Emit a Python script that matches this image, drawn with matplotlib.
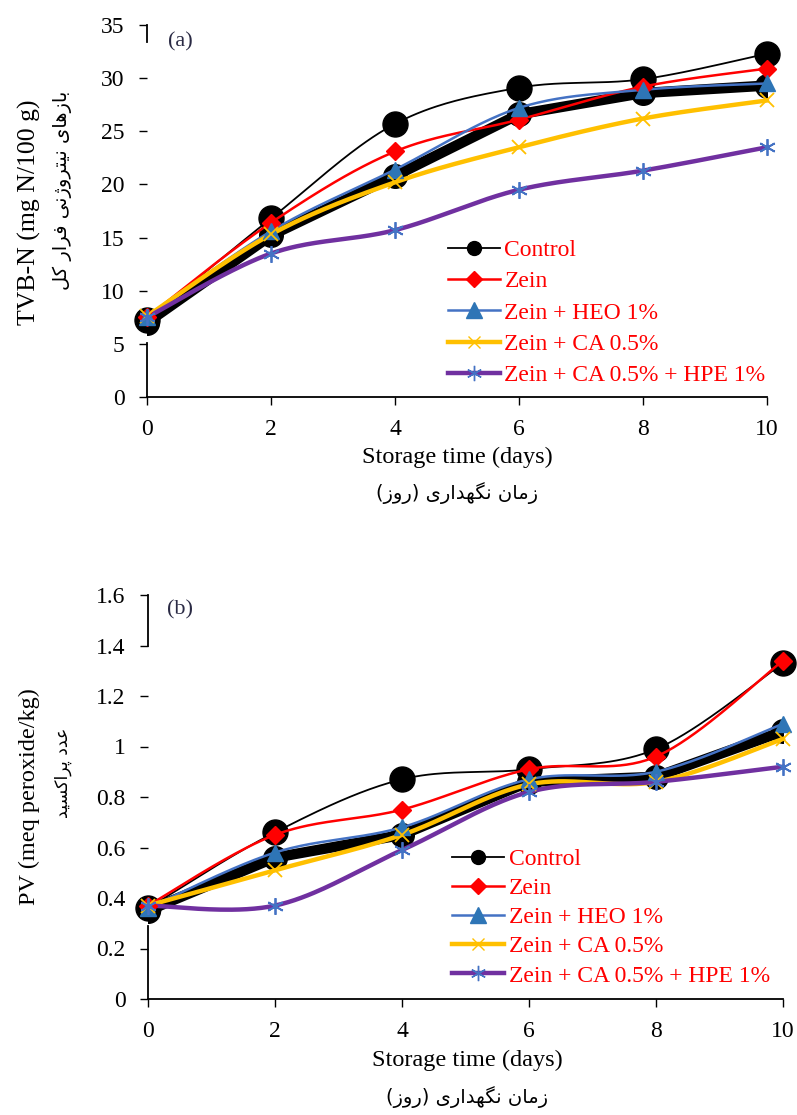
import numpy as np
import matplotlib
matplotlib.use("Agg")
import matplotlib.pyplot as plt
from matplotlib.lines import Line2D

plt.rcParams['font.family'] = ['Liberation Serif', 'DejaVu Sans']

# ---------------- data ----------------
days = [0, 2, 4, 6, 8, 10]
series_names = ["Control", "Zein", "Zein + HEO 1%", "Zein + CA 0.5%", "Zein + CA 0.5% + HPE 1%"]

tvbn_control = [7.2, 16.8, 25.7, 29.1, 29.9, 32.3]
tvbn_zein = [7.5, 16.4, 23.1, 26.1, 29.2, 30.9]
tvbn_heo = [7.5, 15.6, 21.4, 27.2, 28.9, 29.5]
tvbn_ca = [7.6, 15.3, 20.2, 23.5, 26.2, 27.9]
tvbn_hpe = [7.5, 13.5, 15.7, 19.5, 21.3, 23.5]
tvbn_band = [7.0, 15.2, 20.8, 26.6, 28.6, 29.3]

pv_control = [0.36, 0.66, 0.87, 0.91, 0.99, 1.33]
pv_zein = [0.37, 0.65, 0.75, 0.91, 0.96, 1.34]
pv_heo = [0.36, 0.58, 0.68, 0.87, 0.90, 1.09]
pv_ca = [0.37, 0.51, 0.65, 0.85, 0.86, 1.03]
pv_hpe = [0.37, 0.37, 0.59, 0.82, 0.86, 0.92]
pv_band = [0.35, 0.56, 0.65, 0.86, 0.88, 1.06]

tvbn_yticks = [0, 5, 10, 15, 20, 25, 30, 35]
pv_yticks = [0, 0.2, 0.4, 0.6, 0.8, 1.0, 1.2, 1.4, 1.6]
pv_yticklabels = ["0", "0.2", "0.4", "0.6", "0.8", "1", "1.2", "1.4", "1.6"]
xticks = [0, 2, 4, 6, 8, 10]

ylabel_a = "TVB-N (mg N/100 g)"
ylabel_a_fa = "بازهای نیتروژنی فرار کل"
ylabel_b = "PV (meq peroxide/kg)"
ylabel_b_fa = "عدد پراکسید"
xlabel_en = "Storage time (days)"
xlabel_fa = "زمان نگهداری (روز)"

# ---------------- Persian shaping ----------------
FORMS = {
    'ا': ('\uFE8D', '\uFE8E', None, None),
    'ب': ('\uFE8F', '\uFE90', '\uFE91', '\uFE92'),
    'پ': ('\uFB56', '\uFB57', '\uFB58', '\uFB59'),
    'ت': ('\uFE95', '\uFE96', '\uFE97', '\uFE98'),
    'د': ('\uFEA9', '\uFEAA', None, None),
    'ر': ('\uFEAD', '\uFEAE', None, None),
    'ز': ('\uFEAF', '\uFEB0', None, None),
    'ژ': ('\uFB8A', '\uFB8B', None, None),
    'س': ('\uFEB1', '\uFEB2', '\uFEB3', '\uFEB4'),
    'ع': ('\uFEC9', '\uFECA', '\uFECB', '\uFECC'),
    'ف': ('\uFED1', '\uFED2', '\uFED3', '\uFED4'),
    'ک': ('\uFB8E', '\uFB8F', '\uFB90', '\uFB91'),
    'گ': ('\uFB92', '\uFB93', '\uFB94', '\uFB95'),
    'ل': ('\uFEDD', '\uFEDE', '\uFEDF', '\uFEE0'),
    'م': ('\uFEE1', '\uFEE2', '\uFEE3', '\uFEE4'),
    'ن': ('\uFEE5', '\uFEE6', '\uFEE7', '\uFEE8'),
    'ه': ('\uFEE9', '\uFEEA', '\uFEEB', '\uFEEC'),
    'و': ('\uFEED', '\uFEEE', None, None),
    'ی': ('\uFBFC', '\uFBFD', '\uFBFE', '\uFBFF'),
}


def shape_fa(text):
    chars = list(text)
    out = []
    for i, c in enumerate(chars):
        if c not in FORMS:
            out.append(c)
            continue
        prev = chars[i - 1] if i > 0 else None
        nxt = chars[i + 1] if i + 1 < len(chars) else None
        join_prev = prev in FORMS and FORMS[prev][2] is not None
        join_next = nxt in FORMS and FORMS[c][2] is not None
        iso, fin, ini, med = FORMS[c]
        if join_prev and join_next:
            out.append(med)
        elif join_prev:
            out.append(fin)
        elif join_next:
            out.append(ini)
        else:
            out.append(iso)
    vis = ''.join(reversed(out))
    vis = vis.translate(str.maketrans({'(': ')', ')': '('}))
    return vis


def excel_smooth(x, y, n=40):
    pts = np.column_stack([np.asarray(x, float), np.asarray(y, float)])
    segs = []
    for i in range(len(pts) - 1):
        p0 = pts[i - 1] if i > 0 else pts[i]
        p1 = pts[i]
        p2 = pts[i + 1]
        p3 = pts[i + 2] if i + 2 < len(pts) else pts[i + 1]
        c1 = p1 + (p2 - p0) / 6.0
        c2 = p2 - (p3 - p1) / 6.0
        t = np.linspace(0, 1, n)[:, None]
        seg = (1 - t) ** 3 * p1 + 3 * (1 - t) ** 2 * t * c1 + 3 * (1 - t) * t ** 2 * c2 + t ** 3 * p2
        segs.append(seg if i == 0 else seg[1:])
    return np.vstack(segs)


styles = [
    dict(color='black', lw=1.3, marker='o', mfc='black', mec='black', ms=18, lms=10),
    dict(color='#FF0000', lw=1.8, marker='D', mfc='#FF0000', mec='#FF0000', ms=9, lms=8),
    dict(color='#4472C4', lw=1.8, marker='^', mfc='#2E75B6', mec='#2E75B6', ms=11, lms=11),
    dict(color='#FFC000', lw=3.2, marker='x', mfc='#FFC000', mec='#FFC000', ms=10, lms=9),
    dict(color='#7030A0', lw=3.2, marker='*', mfc='#4472C4', mec='#4472C4', ms=0, lms=0),
]

FS_TICK = 17
FS_LAB = 17.5
FS_LEG = 17
W, H = 797, 1115
fig = plt.figure(figsize=(W / 100, H / 100), dpi=100)


def make_panel(rect, series, band, ylim, yticks, yticklabels, spine_parts, leg_anchor, leg_spacing,
               ylab, ylab_fa, ylab_x, ylab_y, ylab_fs, xlab_x, xlab_y, tag, tag_xy):
    ax = fig.add_axes(rect)
    # black band artefact
    ax.plot(days, band, color='black', lw=7.5, solid_capstyle='butt', zorder=1)
    ax.plot(days, band, linestyle='none', marker='o', ms=17, color='black', zorder=1)
    for vals, st in zip(series, styles):
        sm = excel_smooth(days, vals)
        ax.plot(sm[:, 0], sm[:, 1], color=st['color'], lw=st['lw'], zorder=3, clip_on=False)
    for vals, st in zip(series, styles):
        if st['marker'] == '*':
            ax.plot(days, vals, linestyle='none', marker=(6, 2, 0), ms=12, mec=st['mec'], mew=1.3, zorder=4, clip_on=False)
        elif st['marker'] == 'x':
            ax.plot(days, vals, linestyle='none', marker='x', ms=st['ms'], mec=st['mec'], mew=1.3, zorder=4, clip_on=False)
        else:
            ax.plot(days, vals, linestyle='none', marker=st['marker'], ms=st['ms'], mfc=st['mfc'], mec=st['mec'],
                    zorder=4 if st['marker'] != 'o' else 2, clip_on=False)
    ax.set_xlim(0, 10)
    ax.set_ylim(*ylim)
    ax.set_xticks(xticks)
    ax.set_xticklabels([str(v) for v in xticks], fontsize=FS_TICK)
    ax.set_yticks(yticks)
    ax.set_yticklabels(yticklabels, fontsize=FS_TICK)
    ax.tick_params(axis='x', direction='out', length=6, width=1, pad=10)
    ax.tick_params(axis='y', direction='out', length=6, width=1, pad=10)
    for s in ['top', 'right']:
        ax.spines[s].set_visible(False)
    ax.spines['bottom'].set_linewidth(1.3)
    ax.spines['left'].set_visible(False)
    for lo, hi in spine_parts:
        ax.plot([0, 0], [lo, hi], color='black', lw=1.3, clip_on=False, zorder=5)
    # legend
    handles = []
    for name, st in zip(series_names, styles):
        if st['marker'] == '*':
            h = Line2D([], [], color=st['color'], lw=st['lw'], marker=(6, 2, 0), ms=11, mec=st['mec'], mew=1.0)
        elif st['marker'] == 'x':
            h = Line2D([], [], color=st['color'], lw=st['lw'], marker='x', ms=9, mec=st['mec'], mew=1.0)
        else:
            h = Line2D([], [], color=st['color'], lw=st['lw'], marker=st['marker'], ms=st['lms'], mfc=st['mfc'], mec=st['mec'])
        handles.append(h)
    ax.legend(handles, series_names, loc='center left', bbox_to_anchor=leg_anchor, frameon=False,
              fontsize=FS_LEG, labelcolor='#FF0000', handlelength=2.2, handletextpad=0.2,
              labelspacing=leg_spacing, borderpad=0, borderaxespad=0)
    # axis labels
    fig.text(ylab_x[0] / W, 1 - ylab_y[0] / H, ylab, rotation=90, ha='center', va='center', fontsize=ylab_fs[0])
    fig.text(ylab_x[1] / W, 1 - ylab_y[1] / H, shape_fa(ylab_fa), rotation=90, ha='center', va='center',
             fontsize=ylab_fs[1], family='DejaVu Sans')
    fig.text(xlab_x / W, 1 - xlab_y[0] / H, xlabel_en, ha='center', va='center', fontsize=FS_LAB)
    fig.text(xlab_x / W, 1 - xlab_y[1] / H, shape_fa(xlabel_fa), ha='center', va='center', fontsize=14, family='DejaVu Sans')
    fig.text(tag_xy[0] / W, 1 - tag_xy[1] / H, tag, ha='center', va='center', fontsize=16, color='#2a2a44')
    return ax


series_a = [tvbn_control, tvbn_zein, tvbn_heo, tvbn_ca, tvbn_hpe]
series_b = [pv_control, pv_zein, pv_heo, pv_ca, pv_hpe]

make_panel([147 / W, 1 - 397 / H, 620 / W, 372 / H], series_a, tvbn_band, (0, 35), tvbn_yticks,
           [str(v) for v in tvbn_yticks], [(0, 5.1), (33.4, 35)], (0.485, 0.226), 0.41,
           ylabel_a, ylabel_a_fa, (29, 62), (212, 190), (18.5, 14), 457, (457, 493), "(a)", (180, 42))

make_panel([148 / W, 1 - 999 / H, 635 / W, 404 / H], series_b, pv_band, (0, 1.6), pv_yticks,
           pv_yticklabels, [(0, 0.29), (1.4, 1.6)], (0.479, 0.2015), 0.32,
           ylabel_b, ylabel_b_fa, (29, 63), (797, 773), (17.5, 12.5), 467, (1060, 1097), "(b)", (180, 610))

fig.savefig("out.png", dpi=100)
